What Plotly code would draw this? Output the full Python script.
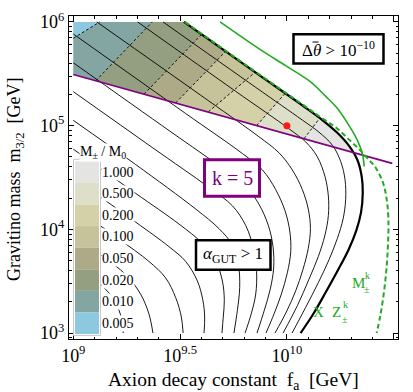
import numpy as np
import plotly.graph_objects as go

# ---------------- data (log10 of f_a [GeV], log10 of m_3/2 [GeV]) ----------------
thick_L = [9.518, 9.874, 10.072, 10.166, 10.236, 10.291, 10.330, 10.350, 10.355, 10.347, 10.325, 10.288, 10.236, 10.181, 10.124, 10.064]
thick_M = [6.000, 5.483, 5.196, 5.054, 4.931, 4.805, 4.669, 4.511, 4.354, 4.164, 3.991, 3.801, 3.596, 3.391, 3.186, 3.000]

t0_L = [9.420, 9.854, 10.072, 10.150, 10.213, 10.252, 10.272, 10.275, 10.263, 10.236, 10.197, 10.147, 10.088, 10.024]
t0_M = [6.000, 5.369, 5.054, 4.937, 4.811, 4.653, 4.480, 4.290, 4.101, 3.912, 3.707, 3.486, 3.249, 3.000]
t1_L = [9.301, 9.760, 10.010, 10.088, 10.142, 10.178, 10.194, 10.194, 10.178, 10.147, 10.103, 10.049, 9.982]
t1_M = [6.000, 5.331, 4.969, 4.843, 4.701, 4.511, 4.322, 4.133, 3.944, 3.738, 3.518, 3.265, 3.000]
t2_L = [9.110, 9.635, 9.869, 9.963, 10.025, 10.072, 10.100, 10.110, 10.100, 10.075, 10.041, 9.997, 9.944]
t2_M = [6.000, 5.237, 4.893, 4.738, 4.574, 4.385, 4.196, 4.007, 3.817, 3.612, 3.407, 3.202, 3.000]
t3_L = [9.000, 9.526, 9.791, 9.885, 9.947, 9.991, 10.014, 10.018, 10.002, 9.974, 9.940, 9.902]
t3_M = [5.884, 5.117, 4.732, 4.574, 4.385, 4.180, 3.975, 3.786, 3.581, 3.376, 3.186, 3.000]
t4_L = [9.000, 9.448, 9.713, 9.807, 9.869, 9.913, 9.935, 9.938, 9.922, 9.894, 9.860]
t4_M = [5.606, 4.953, 4.568, 4.417, 4.243, 4.038, 3.833, 3.628, 3.423, 3.218, 3.000]
t5_L = [9.000, 9.370, 9.635, 9.745, 9.807, 9.843, 9.858, 9.854, 9.833, 9.804]
t5_M = [5.328, 4.789, 4.404, 4.227, 4.038, 3.817, 3.596, 3.376, 3.186, 3.000]
t6_L = [9.000, 9.292, 9.573, 9.682, 9.745, 9.773, 9.779, 9.768, 9.752]
t6_M = [5.051, 4.625, 4.196, 4.007, 3.849, 3.660, 3.439, 3.218, 3.000]
t7_L = [9.000, 9.292, 9.495, 9.604, 9.667, 9.698, 9.707, 9.702, 9.696]
t7_M = [4.773, 4.347, 4.051, 3.865, 3.691, 3.502, 3.313, 3.155, 3.000]
t8_L = [9.000, 9.292, 9.448, 9.526, 9.581, 9.607, 9.615, 9.612]
t8_M = [4.496, 4.070, 3.833, 3.691, 3.502, 3.313, 3.155, 3.000]
t9_L = [9.000, 9.214, 9.354, 9.432, 9.479, 9.506, 9.514]
t9_M = [4.218, 3.906, 3.691, 3.533, 3.344, 3.155, 3.000]
t10_L = [9.000, 9.136, 9.245, 9.315, 9.354, 9.373]
t10_M = [3.940, 3.741, 3.565, 3.376, 3.186, 3.000]
t11_L = [9.000, 9.105, 9.183, 9.222, 9.234]
t11_M = [3.663, 3.511, 3.344, 3.171, 3.000]
t12_L = [9.000, 9.058, 9.097, 9.113]
t12_M = [3.385, 3.300, 3.186, 3.000]

purple_L = [9.000, 10.493]
purple_M = [5.493, 4.637]

green_solid_L = [9.687, 9.874, 9.994, 10.108, 10.181, 10.233, 10.291, 10.330, 10.353, 10.362]
green_solid_M = [6.000, 5.735, 5.578, 5.426, 5.284, 5.174, 5.000, 4.858, 4.732, 4.606]

green_dash_L = [9.522, 9.874, 10.072, 10.166, 10.228, 10.291, 10.342, 10.384, 10.412, 10.450, 10.467, 10.475, 10.473, 10.465, 10.451, 10.436, 10.420]
green_dash_M = [6.000, 5.489, 5.205, 5.070, 4.984, 4.865, 4.764, 4.669, 4.606, 4.448, 4.290, 4.101, 3.849, 3.596, 3.344, 3.155, 3.000]

bench_L = [10.0]
bench_M = [5.0]

region_left = 9.0
region_top = 6.0
cross_L, cross_M = 10.311, 4.748   # thick curve meets purple line

# dashed band dividers: lower end (on purple / left edge) and upper end (top / thick edge)
div_lo_L = [9.000, 9.105, 9.331, 9.479, 9.632, 9.858, 10.080]
div_lo_M = [5.842, 5.432, 5.303, 5.218, 5.133, 5.000, 4.874]
div_hi_L = [9.124, 9.370, 9.601, 9.713, 9.851, 9.991, 10.153]
div_hi_M = [6.000, 6.000, 5.880, 5.716, 5.514, 5.309, 5.070]

legend_labels = ["1.000", "0.500", "0.200", "0.100", "0.050", "0.020", "0.010", "0.005"]
band_colors = ["#e4e4e2", "#dedfc8", "#d4d1a9", "#c6c29a", "#adab87", "#939f80", "#84a6a2", "#8cc8e0"]

x_tick_exp = [9, 9.5, 10, 10.5]
x_tick_text = ["10<sup>9</sup>", "10<sup>9.5</sup>", "10<sup>10</sup>", "10<sup>10.5</sup>"]
y_tick_exp = [3, 4, 5, 6]
y_tick_text = ["10<sup>3</sup>", "10<sup>4</sup>", "10<sup>5</sup>", "10<sup>6</sup>"]

# ---------------- figure ----------------
P = lambda a: np.power(10.0, np.asarray(a, dtype=float))
FONT = "Liberation Serif"
GREEN = "#22aa22"
PURPLE = "#800080"

fig = go.Figure()

# colour bands (ordered from the 0.005 corner to the 1.000 tip)
lo = list(zip(div_lo_L, div_lo_M))
hi = list(zip(div_hi_L, div_hi_M))
corner = (region_left, region_top)
pstart = (purple_L[0], purple_M[0])
tstart = (thick_L[0], thick_M[0])
polys = []
polys.append([lo[0], corner, hi[0]])
polys.append([pstart, lo[0], hi[0], hi[1], lo[1]])
polys.append([lo[1], hi[1], tstart, hi[2], lo[2]])
for i in range(2, 6):
    polys.append([lo[i], hi[i], hi[i + 1], lo[i + 1]])
tip = [lo[6], hi[6]] + [(l, m) for l, m in zip(thick_L, thick_M) if l > hi[6][0] and m > cross_M] + [(cross_L, cross_M)]
polys.append(tip)
band_fill = band_colors[::-1]
for poly, col in zip(polys, band_fill):
    xs = [p[0] for p in poly] + [poly[0][0]]
    ys = [p[1] for p in poly] + [poly[0][1]]
    fig.add_trace(go.Scatter(x=P(xs), y=P(ys), mode="lines", fill="toself", fillcolor=col,
                             line=dict(width=0, color=col), hoverinfo="skip", showlegend=False))

# thin contour lines
for L, M in [(t0_L, t0_M), (t1_L, t1_M), (t2_L, t2_M), (t3_L, t3_M), (t4_L, t4_M), (t5_L, t5_M),
             (t6_L, t6_M), (t7_L, t7_M), (t8_L, t8_M), (t9_L, t9_M), (t10_L, t10_M), (t11_L, t11_M),
             (t12_L, t12_M)]:
    fig.add_trace(go.Scatter(x=P(L), y=P(M), mode="lines", line=dict(color="black", width=0.9, shape="spline", smoothing=1.0),
                             hoverinfo="skip", showlegend=False))

# dashed dividers
for i in range(len(div_lo_L)):
    fig.add_trace(go.Scatter(x=P([div_lo_L[i], div_hi_L[i]]), y=P([div_lo_M[i], div_hi_M[i]]), mode="lines",
                             line=dict(color="black", width=0.9, dash="3px,2px"), hoverinfo="skip", showlegend=False))

# thick boundary
fig.add_trace(go.Scatter(x=P(thick_L), y=P(thick_M), mode="lines",
                         line=dict(color="black", width=2.2, shape="spline", smoothing=1.0), showlegend=False))
# purple line
fig.add_trace(go.Scatter(x=P(purple_L), y=P(purple_M), mode="lines", line=dict(color=PURPLE, width=1.8), showlegend=False))
# green curves
fig.add_trace(go.Scatter(x=P(green_solid_L), y=P(green_solid_M), mode="lines",
                         line=dict(color=GREEN, width=1.6, shape="spline", smoothing=1.0), showlegend=False))
fig.add_trace(go.Scatter(x=P(green_dash_L), y=P(green_dash_M), mode="lines",
                         line=dict(color=GREEN, width=2.0, dash="5px,3px", shape="spline", smoothing=1.0), showlegend=False))
# benchmark point
fig.add_trace(go.Scatter(x=P(bench_L), y=P(bench_M), mode="markers", marker=dict(color="#ff1a1a", size=7), showlegend=False))

# ---------------- layout ----------------
W, H = 413, 392
L0, R0, T0, B0 = 69, 15, 10, 53
pw, ph = W - L0 - R0, H - T0 - B0
px = lambda x: (x - L0) / pw
py = lambda y: (H - B0 - y) / ph

x_minor = [10 ** (9 + 0.1 * k) for k in range(-1, 17)]
y_minor = [m * 10 ** e for e in range(2, 7) for m in range(2, 10)]

fig.update_layout(
    width=W, height=H, margin=dict(l=L0, r=R0, t=T0, b=B0),
    paper_bgcolor="white", plot_bgcolor="white",
    font=dict(family=FONT, color="black", size=17),
    xaxis=dict(type="log", range=[8.98, 10.52], showgrid=False, zeroline=False,
               showline=True, linecolor="black", linewidth=1, mirror="allticks",
               ticks="inside", ticklen=5, tickcolor="black", tickwidth=1,
               tickvals=P(x_tick_exp), ticktext=x_tick_text, tickfont=dict(size=18, family=FONT),
               minor=dict(ticks="inside", ticklen=2.5, tickcolor="black", tickvals=x_minor, showgrid=False)),
    yaxis=dict(type="log", range=[2.943, 6.057], showgrid=False, zeroline=False,
               showline=True, linecolor="black", linewidth=1, mirror="allticks",
               ticks="inside", ticklen=5, tickcolor="black", tickwidth=1,
               tickvals=P(y_tick_exp), ticktext=y_tick_text, tickfont=dict(size=18, family=FONT),
               minor=dict(ticks="inside", ticklen=2.5, tickcolor="black", tickvals=y_minor, showgrid=False)),
)

shapes = []
annos = []

# axis titles
annos.append(dict(xref="paper", yref="paper", x=px(233.5), y=py(382), text="Axion decay constant  f<sub>a</sub>  [GeV]",
                  showarrow=False, font=dict(size=19.5, family=FONT), xanchor="center", yanchor="middle"))
annos.append(dict(xref="paper", yref="paper", x=px(16), y=py(176), text="Gravitino mass  m<sub>3/2</sub>  [GeV]",
                  showarrow=False, textangle=-90, font=dict(size=18, family=FONT), xanchor="center", yanchor="middle"))

# legend (M±/M0 swatches)
shapes.append(dict(type="rect", xref="paper", yref="paper", x0=px(73.5), x1=px(100.5), y0=py(335.5), y1=py(156),
                   line=dict(color="#c8c8c8", width=1), fillcolor="white", layer="above"))
for i, (lab, col) in enumerate(zip(legend_labels, band_colors)):
    top = 158 + 22 * i
    shapes.append(dict(type="rect", xref="paper", yref="paper", x0=px(75), x1=px(99), y0=py(top + 22), y1=py(top),
                       line=dict(width=0), fillcolor=col, layer="above"))
    annos.append(dict(xref="paper", yref="paper", x=px(101), y=py(top + 11), text=lab, showarrow=False,
                      xanchor="left", yanchor="middle", bgcolor="white", borderpad=0, font=dict(size=14, family=FONT)))
annos.append(dict(xref="paper", yref="paper", x=px(79), y=py(149), text="M<sub>±</sub> / M<sub>0</sub>", showarrow=False,
                  xanchor="left", yanchor="middle", bgcolor="white", borderpad=0, font=dict(size=14, family=FONT)))

# boxed labels
def box(x0, y0, x1, y1, color, lw, text, size, tcolor):
    shapes.append(dict(type="rect", xref="paper", yref="paper", x0=px(x0), x1=px(x1), y0=py(y1), y1=py(y0),
                       line=dict(color=color, width=lw), fillcolor="white", layer="above"))
    annos.append(dict(xref="paper", yref="paper", x=px((x0 + x1) / 2), y=py((y0 + y1) / 2), text=text, showarrow=False,
                      xanchor="center", yanchor="middle", font=dict(size=size, family=FONT, color=tcolor)))

box(293.5, 28.5, 383.5, 58.5, "black", 2.5, "Δ<i>θ</i>\u00a0> 10<sup>−10</sup>", 17, "black")
# overbar of theta
shapes.append(dict(type="line", xref="paper", yref="paper", x0=px(312.5), x1=px(318.5), y0=py(36.5), y1=py(36.5),
                   line=dict(color="black", width=1), layer="above"))
box(204.5, 156.5, 259.5, 193.5, PURPLE, 3, "k = 5", 20, PURPLE)
box(196, 238.5, 270.5, 268.5, "black", 2.5, "<i>α</i><sub>GUT</sub> > 1", 17, "black")

# green labels
def gl(x, y, t, s):
    annos.append(dict(xref="paper", yref="paper", x=px(x), y=py(y), text=t, showarrow=False,
                      xanchor="center", yanchor="middle", font=dict(size=s, family=FONT, color=GREEN)))

gl(358, 282, "M", 15)
gl(367, 274, "k", 10)
gl(367, 289, "±", 10)
gl(318.5, 312, "X", 15)
gl(336, 312, "Z", 15)
gl(345, 304, "k", 10)
gl(345, 319, "±", 10)

fig.update_layout(shapes=shapes, annotations=annos)
fig.write_html("out.html")
